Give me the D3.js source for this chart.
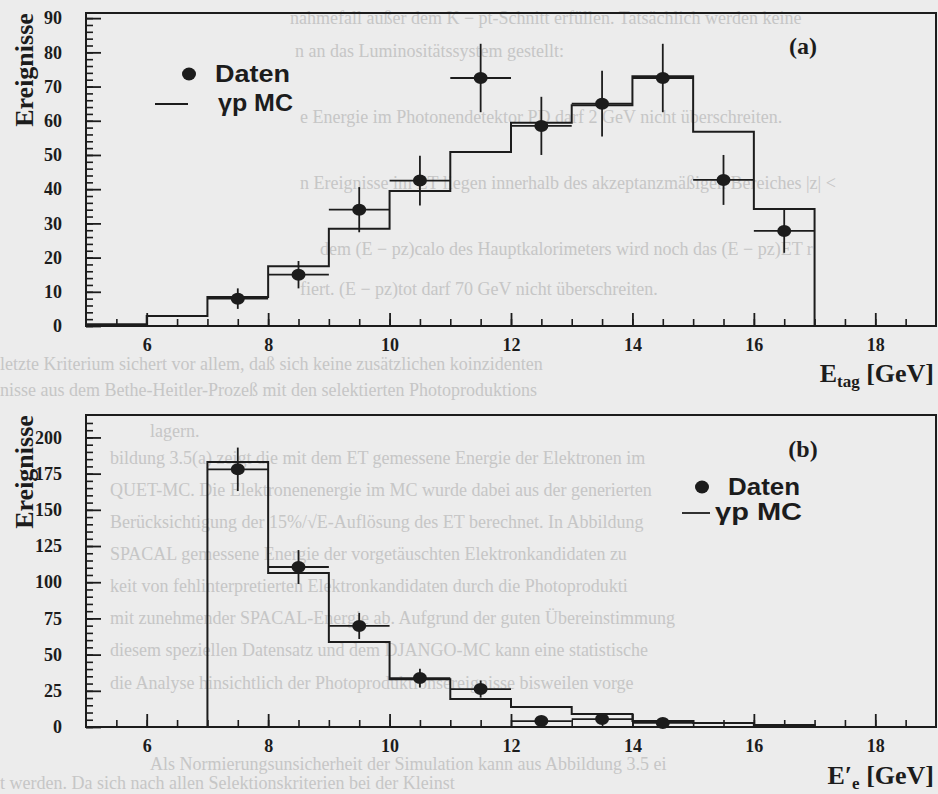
<!DOCTYPE html>
<html>
<head>
<meta charset="utf-8">
<script src="https://cdn.jsdelivr.net/npm/d3@7"></script>
<style>
  html, body { margin: 0; padding: 0; background: #ececec; }
  svg { display: block; }
</style>
</head>
<body>
<svg id="fig" width="938" height="794"></svg>
<script>
// ---- data --------------------------------------------------------------
// bin low edges (GeV) and MC histogram contents, panel (a): E_tag
const mcEdgesA = [5, 6, 7, 8, 9, 10, 11, 12, 13, 14, 15, 16];
const mcValuesA = [0.5, 2.9, 8.5, 17.5, 28.4, 39.5, 50.9, 59.4, 64.5, 73, 56.8, 34.2];
// measured events, panel (a)
const dataCentersA = [7.5, 8.5, 9.5, 10.5, 11.5, 12.5, 13.5, 14.5, 15.5, 16.5];
const dataValuesA = [8, 15, 34, 42.5, 72.5, 58.5, 65, 72.5, 42.7, 27.8];
const dataErrorsA = [3, 4, 6.6, 7.3, 10, 8.5, 9.6, 10, 7.3, 6.4];

// panel (b): E'_e
const mcEdgesB = [7, 8, 9, 10, 11, 12, 13, 14, 15, 16];
const mcValuesB = [183, 106.4, 58.7, 33, 19.3, 13.8, 9, 4.1, 2.8, 1.4];
const dataCentersB = [7.5, 8.5, 9.5, 10.5, 11.5, 12.5, 13.5, 14.5];
const dataValuesB = [178, 110.5, 69.8, 33.8, 26.2, 4.1, 5.5, 2.8];
const dataErrorsB = [15, 11.7, 9, 6.5, 5.9, 2, 2.4, 1.7];

// tick values
const xMajorTicks = [6, 8, 10, 12, 14, 16, 18];
const xMinorTicks = d3.range(5.5, 19, 0.5);
const yMajorTicksA = [0, 10, 20, 30, 40, 50, 60, 70, 80, 90];
const yMinorTicksA = d3.range(0, 91, 2);
const yMajorTicksB = [0, 25, 50, 75, 100, 125, 150, 175, 200];
const yMinorTicksB = d3.range(0, 215, 5);

// faint lines of the facing page showing through the paper
const pageLines = [
  [24, 290, "nahmefall außer dem K − pt-Schnitt erfüllen. Tatsächlich werden keine"],
  [57, 295, "n an das Luminositätssystem gestellt:"],
  [123, 300, "e Energie im Photonendetektor PD darf 2 GeV nicht überschreiten."],
  [189, 300, "n Ereignisse im ET liegen innerhalb des akzeptanzmäßigen Bereiches |z| <"],
  [255, 320, "dem (E − pz)calo des Hauptkalorimeters wird noch das (E − pz)ET r"],
  [295, 300, "fiert. (E − pz)tot darf 70 GeV nicht überschreiten."],
  [370, 0, "letzte Kriterium sichert vor allem, daß sich keine zusätzlichen koinzidenten"],
  [396, 0, "nisse aus dem Bethe-Heitler-Prozeß mit den selektierten Photoproduktions"],
  [437, 150, "lagern."],
  [464, 110, "bildung 3.5(a) zeigt die mit dem ET gemessene Energie der Elektronen im"],
  [496, 110, "QUET-MC. Die Elektronenenergie im MC wurde dabei aus der generierten"],
  [528, 110, "Berücksichtigung der 15%/√E-Auflösung des ET berechnet. In Abbildung"],
  [560, 110, "SPACAL gemessene Energie der vorgetäuschten Elektronkandidaten zu"],
  [592, 110, "keit von fehlinterpretierten Elektronkandidaten durch die Photoprodukti"],
  [624, 110, "mit zunehmender SPACAL-Energie ab. Aufgrund der guten Übereinstimmung"],
  [656, 110, "diesem speziellen Datensatz und dem DJANGO-MC kann eine statistische"],
  [689, 110, "die Analyse hinsichtlich der Photoproduktionsereignisse bisweilen vorge"],
  [770, 150, "Als Normierungsunsicherheit der Simulation kann aus Abbildung 3.5 ei"],
  [789, 0, "t werden. Da sich nach allen Selektionskriterien bei der Kleinst"]
];

// ---- drawing -----------------------------------------------------------
const svg = d3.select("#fig");
const ink = "#1c1c1c";
const serif = "'Liberation Serif', 'DejaVu Serif', serif";
const sans = "'Liberation Sans', Arial, sans-serif";

svg.append("rect").attr("width", 938).attr("height", 794).attr("fill", "#ececec");

svg.append("g").selectAll("text").data(pageLines).join("text")
  .attr("x", d => d[1]).attr("y", d => d[0])
  .attr("font-family", serif).attr("font-size", 18)
  .attr("fill", "#c6c6c6")
  .text(d => d[2]);

function panel(opt) {
  const x = d3.scaleLinear().domain([5, 19]).range([86, 936]);
  const y = d3.scaleLinear().domain([0, opt.yMax]).range([opt.bottom, opt.top]);
  const g = svg.append("g");

  // minor and major ticks, pointing into the frame
  g.append("g").attr("transform", `translate(86,0)`)
    .call(d3.axisLeft(y).tickValues(opt.yMinor).tickSize(-7).tickFormat(""))
    .call(a => a.select(".domain").remove())
    .call(a => a.selectAll("line").attr("stroke", ink).attr("stroke-width", 1.6));
  g.append("g").attr("transform", `translate(86,0)`)
    .call(d3.axisLeft(y).tickValues(opt.yMajor).tickSize(-15).tickPadding(24))
    .call(a => a.select(".domain").remove())
    .call(a => a.selectAll("line").attr("stroke", ink).attr("stroke-width", 1.8))
    .call(a => a.selectAll("text").attr("fill", ink).attr("font-family", serif)
      .attr("font-weight", "bold").attr("font-size", 18));

  g.append("g").attr("transform", `translate(0,${opt.bottom})`)
    .call(d3.axisBottom(x).tickValues(xMinorTicks).tickSize(-7).tickFormat(""))
    .call(a => a.select(".domain").remove())
    .call(a => a.selectAll("line").attr("stroke", ink).attr("stroke-width", 1.6));
  g.append("g").attr("transform", `translate(0,${opt.bottom})`)
    .call(d3.axisBottom(x).tickValues(xMajorTicks).tickSize(-13).tickPadding(12))
    .call(a => a.select(".domain").remove())
    .call(a => a.selectAll("line").attr("stroke", ink).attr("stroke-width", 1.8))
    .call(a => a.selectAll("text").attr("fill", ink).attr("font-family", serif)
      .attr("font-weight", "bold").attr("font-size", 18));

  // frame
  g.append("rect")
    .attr("x", 86).attr("y", opt.top)
    .attr("width", 936 - 86).attr("height", opt.bottom - opt.top)
    .attr("fill", "none").attr("stroke", ink).attr("stroke-width", 2);

  // MC histogram as a step line
  const pts = [[opt.mcEdges[0], 0]];
  opt.mcEdges.forEach((e, i) => pts.push([e, opt.mcValues[i]]));
  const lastE = opt.mcEdges[opt.mcEdges.length - 1] + 1;
  pts.push([lastE, opt.mcValues[opt.mcValues.length - 1]]);
  pts.push([lastE, 0]);
  g.append("path")
    .attr("d", d3.line().x(d => x(d[0])).y(d => y(d[1])).curve(d3.curveStepAfter)(pts))
    .attr("fill", "none").attr("stroke", ink).attr("stroke-width", 2);

  // data with error bars
  const pts2 = opt.dataCenters.map((c, i) => ({ c, v: opt.dataValues[i], e: opt.dataErrors[i] }));
  const dg = g.append("g");
  dg.selectAll(".hb").data(pts2).join("line")
    .attr("x1", d => x(d.c - 0.5)).attr("x2", d => x(d.c + 0.5))
    .attr("y1", d => y(d.v)).attr("y2", d => y(d.v))
    .attr("stroke", ink).attr("stroke-width", 1.8);
  dg.selectAll(".vb").data(pts2).join("line")
    .attr("x1", d => x(d.c)).attr("x2", d => x(d.c))
    .attr("y1", d => y(d.v - d.e)).attr("y2", d => y(d.v + d.e))
    .attr("stroke", ink).attr("stroke-width", 1.8);
  dg.selectAll("ellipse").data(pts2).join("ellipse")
    .attr("cx", d => x(d.c)).attr("cy", d => y(d.v))
    .attr("rx", 7).attr("ry", 6).attr("fill", ink);

  // axis title
  g.append("text")
    .attr("transform", `translate(33,${opt.yTitleCenter}) rotate(-90)`)
    .attr("text-anchor", "middle")
    .attr("font-family", serif).attr("font-weight", "bold").attr("font-size", 26)
    .attr("fill", ink).text("Ereignisse");

  // legend
  const L = opt.legend;
  g.append("ellipse").attr("cx", L.dotX).attr("cy", L.dotY).attr("rx", 7).attr("ry", 6.5).attr("fill", ink);
  g.append("text").attr("x", L.textX).attr("y", L.dotY + 8)
    .attr("font-family", sans).attr("font-weight", "bold").attr("font-size", L.size)
    .attr("textLength", L.w1).attr("lengthAdjust", "spacingAndGlyphs")
    .attr("fill", ink).text("Daten");
  g.append("line").attr("x1", L.lineX1).attr("x2", L.lineX2).attr("y1", L.lineY).attr("y2", L.lineY)
    .attr("stroke", ink).attr("stroke-width", 1.8);
  g.append("text").attr("x", L.textX2).attr("y", L.lineY + 7)
    .attr("font-family", sans).attr("font-weight", "bold").attr("font-size", L.size)
    .attr("textLength", L.w2).attr("lengthAdjust", "spacingAndGlyphs")
    .attr("fill", ink).text("γp MC");

  g.append("text").attr("x", opt.tagX).attr("y", opt.tagY)
    .attr("text-anchor", "middle")
    .attr("font-family", serif).attr("font-weight", "bold").attr("font-size", 24)
    .attr("fill", ink).text(opt.tag);

  // x axis title
  const t = g.append("text").attr("x", 934).attr("y", opt.xTitleY).attr("text-anchor", "end")
    .attr("font-family", serif).attr("font-weight", "bold").attr("font-size", 26).attr("fill", ink);
  t.append("tspan").text(opt.xMain);
  t.append("tspan").attr("font-size", 17).attr("dy", 5).text(opt.xSub);
  t.append("tspan").attr("dy", -5).text(" [GeV]");
}

panel({
  top: 13, bottom: 326, yMax: 91.5,
  yMajor: yMajorTicksA, yMinor: yMinorTicksA,
  mcEdges: mcEdgesA, mcValues: mcValuesA,
  dataCenters: dataCentersA, dataValues: dataValuesA, dataErrors: dataErrorsA,
  yTitleCenter: 70,
  legend: { dotX: 189, dotY: 74, textX: 215, w1: 75, lineX1: 155, lineX2: 188, lineY: 104,
            textX2: 218, w2: 75, size: 24 },
  tag: "(a)", tagX: 803, tagY: 54,
  xMain: "E", xSub: "tag", xTitleY: 382
});

panel({
  top: 415, bottom: 727, yMax: 215.5,
  yMajor: yMajorTicksB, yMinor: yMinorTicksB,
  mcEdges: mcEdgesB, mcValues: mcValuesB,
  dataCenters: dataCentersB, dataValues: dataValuesB, dataErrors: dataErrorsB,
  yTitleCenter: 472,
  legend: { dotX: 702, dotY: 487, textX: 728, w1: 72, lineX1: 682, lineX2: 710, lineY: 513,
            textX2: 715, w2: 87, size: 23 },
  tag: "(b)", tagX: 803, tagY: 457,
  xMain: "E′", xSub: "e", xTitleY: 784
});
</script>
</body>
</html>
